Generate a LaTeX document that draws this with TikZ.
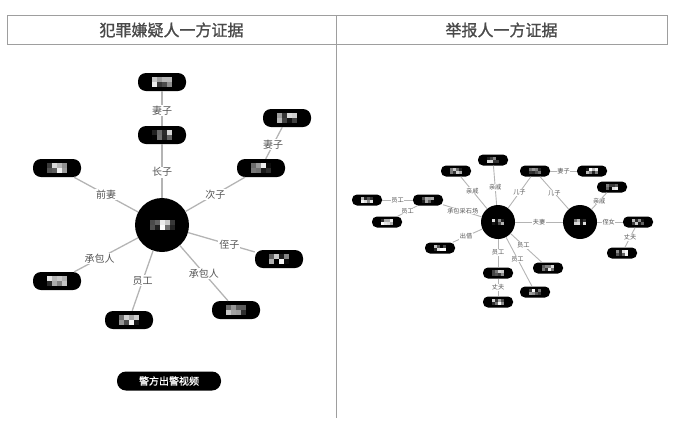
\documentclass[tikz,border=0pt]{standalone}
\usepackage{fontspec}
\setmainfont{Noto Sans CJK SC}
\newfontfamily\headfont[FakeBold=1.2]{Noto Sans CJK SC}
\newfontfamily\btnfont[FakeBold=0.8]{Noto Sans CJK SC}
\usetikzlibrary{calc}
\definecolor{gridc}{HTML}{9E9E9E}
\definecolor{linec}{HTML}{B4B4B4}
\definecolor{lblc}{HTML}{555555}
\definecolor{headc}{HTML}{4A4A4A}
\tikzset{
  bigpill/.style={fill=black, rounded corners=8pt, minimum width=48pt, minimum height=18pt, inner sep=0pt},
  smallpill/.style={fill=black, rounded corners=5pt, minimum width=30pt, minimum height=11pt, inner sep=0pt},
  bighub/.style={circle, fill=black, minimum size=54pt, inner sep=0pt},
  smallhub/.style={circle, fill=black, minimum size=34pt, inner sep=0pt},
  biglbl/.style={fill=white, text=lblc, font=\fontsize{10}{10}\selectfont, inner sep=1pt},
  smalllbl/.style={fill=white, text=lblc, font=\fontsize{6.2}{6.2}\selectfont, inner sep=0.5pt},
  bigedge/.style={draw=linec, line width=1.3pt},
  smalledge/.style={draw=linec, line width=0.9pt},
  headtext/.style={text=headc, font=\headfont\fontsize{16}{16}\selectfont},
  btnbox/.style={fill=black, rounded corners=9pt, minimum width=104pt, minimum height=19pt, inner sep=0pt,
                 text=white, font=\btnfont\fontsize{10}{10}\selectfont},
  tableline/.style={draw=gridc, line width=1pt}
}
\newcommand\mosaicat[3]{%
  \foreach \i in {1,...,#3} {\foreach \j in {0,1} {
    \pgfmathrandominteger{\g}{0}{100}
    \fill[black!\g!white] ($(#1)+({(\i-1-#3/2)*#2},{(\j-1)*#2})$) rectangle ++(#2,#2);
  }}}
\begin{document}
\begin{tikzpicture}[x=1pt,y=-1pt]
\useasboundingbox (0,0) rectangle (699,429);
\pgfmathsetseed{7}
% table
\draw[tableline] (7,15) rectangle (667,44);
\draw[tableline] (336,15) coordinate (dtop) -- (336,418) coordinate (dbot);
\node[headtext] (hl) at (171.5,30) {犯罪嫌疑人一方证据};
\node[headtext] (hr) at (501.5,30) {举报人一方证据};

% ---------- left graph ----------
\node[bighub]  (L0) at (162,225) {};
\node[bigpill] (L1) at (162,82) {};
\node[bigpill] (L2) at (162,135) {};
\node[bigpill] (L3) at (57,168) {};
\node[bigpill] (L4) at (287,118) {};
\node[bigpill] (L5) at (261,168) {};
\node[bigpill] (L6) at (279,259) {};
\node[bigpill] (L7) at (57,281) {};
\node[bigpill] (L8) at (129,320) {};
\node[bigpill] (L9) at (236,310) {};
\node[btnbox]  (btn) at (169,381) {警方出警视频};

\draw[bigedge] (L0) -- node[biglbl, pos=0.48]{长子} (L2);
\draw[bigedge] (L2) -- node[biglbl, pos=0.45]{妻子} (L1);
\draw[bigedge] (L0) -- node[biglbl, pos=0.5]{前妻} (L3);
\draw[bigedge] (L0) -- node[biglbl, pos=0.5]{次子} (L5);
\draw[bigedge] (L5) -- node[biglbl, pos=0.45]{妻子} (L4);
\draw[bigedge] (L0) -- node[biglbl, pos=0.62]{侄子} (L6);
\draw[bigedge] (L0) -- node[biglbl, pos=0.6]{承包人} (L7);
\draw[bigedge] (L0) -- node[biglbl, pos=0.5]{员工} (L8);
\draw[bigedge] (L0) -- node[biglbl, pos=0.5]{承包人} (L9);

\foreach \n in {L1,L2,L3,L4,L5,L6,L7,L8,L9} {\mosaicat{\n}{5}{4}}
\mosaicat{L0}{5}{5}

% ---------- right graph ----------
\node[smallhub]  (R0) at (498,222) {};
\node[smallhub]  (R9) at (580,222) {};
\node[smallpill] (R1) at (493,160) {};
\node[smallpill] (R2) at (456,171) {};
\node[smallpill] (R3) at (428,200) {};
\node[smallpill] (R4) at (367,200) {};
\node[smallpill] (R5) at (387,222) {};
\node[smallpill] (R6) at (440,248) {};
\node[smallpill] (R7) at (498,273) {};
\node[smallpill] (R8) at (498,302) {};
\node[smallpill] (R10) at (535,292) {};
\node[smallpill] (R11) at (548,268) {};
\node[smallpill] (R12) at (535,171) {};
\node[smallpill] (R13) at (592,171) {};
\node[smallpill] (R14) at (612,187) {};
\node[smallpill] (R15) at (638,222) {};
\node[smallpill] (R16) at (622,253) {};

\draw[smalledge] (R0) -- node[smalllbl, pos=0.44]{亲戚} (R1);
\draw[smalledge] (R0) -- node[smalllbl, pos=0.56]{亲戚} (R2);
\draw[smalledge] (R0) -- node[smalllbl, pos=0.49]{承包采石场} (R3);
\draw[smalledge] (R3) -- node[smalllbl, pos=0.5]{员工} (R4);
\draw[smalledge] (R3) -- node[smalllbl, pos=0.5]{员工} (R5);
\draw[smalledge] (R0) -- node[smalllbl, pos=0.55]{出借} (R6);
\draw[smalledge] (R0) -- node[smalllbl, pos=0.48]{员工} (R7);
\draw[smalledge] (R7) -- node[smalllbl, pos=0.5]{丈夫} (R8);
\draw[smalledge] (R0) -- node[smalllbl, pos=0.44]{员工} (R10);
\draw[smalledge] (R0) -- node[smalllbl, pos=0.41]{员工} (R11);
\draw[smalledge] (R0) -- node[smalllbl, pos=0.5]{夫妻} (R9);
\draw[smalledge] (R0) -- node[smalllbl, pos=0.5]{儿子} (R12);
\draw[smalledge] (R9) -- node[smalllbl, pos=0.5]{儿子} (R12);
\draw[smalledge] (R12) -- node[smalllbl, pos=0.5]{妻子} (R13);
\draw[smalledge] (R9) -- node[smalllbl, pos=0.5]{亲戚} (R14);
\draw[smalledge] (R9) -- node[smalllbl, pos=0.45]{侄女} (R15);
\draw[smalledge] (R15) -- node[smalllbl, pos=0.5]{丈夫} (R16);

\foreach \n in {R1,R2,R3,R4,R5,R6,R7,R8,R10,R11,R12,R13,R14,R15,R16,R0,R9} {\mosaicat{\n}{3}{4}}
\end{tikzpicture}
\end{document}
